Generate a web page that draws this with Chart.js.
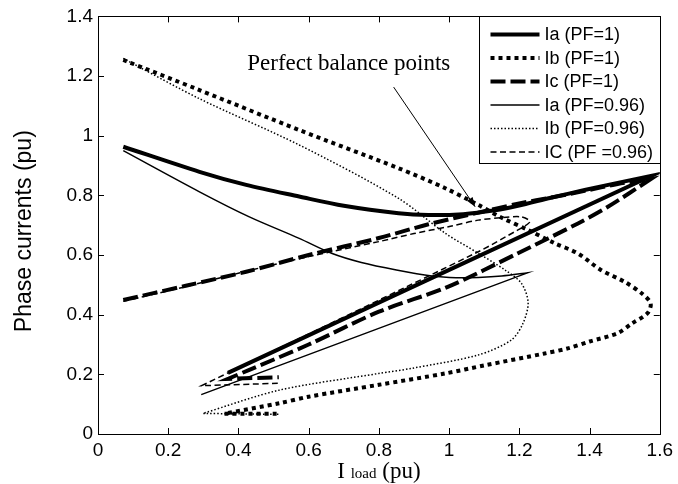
<!DOCTYPE html>
<html>
<head>
<meta charset="utf-8">
<script src="https://cdn.jsdelivr.net/npm/chart.js@4"></script>
<style>
  html, body { margin: 0; padding: 0; background: #fff; }
</style>
</head>
<body>
<canvas id="chart" width="678" height="484"></canvas>
<script>
// values (I load in pu, phase current in pu)
// each curve: outward branch, return branch, short tail; a branch starts where the previous one turned
const iaPf1OutX = [0.072, 0.289, 0.422, 0.573, 0.70, 0.856, 0.941, 1.04, 1.131, 1.196, 1.29, 1.386, 1.48, 1.575];
const iaPf1OutY = [0.963, 0.879, 0.835, 0.796, 0.765, 0.74, 0.734, 0.737, 0.75, 0.765, 0.792, 0.818, 0.842, 0.865];
const iaPf1BackX = [1.575, 0.37];
const iaPf1BackY = [0.865, 0.205];

const ibPf1OutX = [0.072, 0.289, 0.573, 0.856, 0.989, 1.083, 1.15, 1.225, 1.30, 1.367, 1.432, 1.50, 1.55, 1.574, 1.565, 1.52, 1.48, 1.40, 1.338, 1.272, 1.10, 0.989, 0.80, 0.60, 0.516, 0.36];
const ibPf1OutY = [1.254, 1.153, 1.019, 0.891, 0.824, 0.768, 0.725, 0.684, 0.64, 0.605, 0.55, 0.51, 0.47, 0.438, 0.405, 0.37, 0.338, 0.31, 0.287, 0.27, 0.23, 0.203, 0.165, 0.125, 0.103, 0.068];
const ibPf1TailX = [0.36, 0.515];
const ibPf1TailY = [0.068, 0.068];

const icPf1OutX = [0.072, 0.25, 0.422, 0.60, 0.80, 0.941, 1.083, 1.196, 1.30, 1.386, 1.48, 1.575];
const icPf1OutY = [0.449, 0.497, 0.544, 0.600, 0.657, 0.703, 0.742, 0.772, 0.795, 0.815, 0.838, 0.855];
const icPf1BackX = [1.575, 1.45, 1.367, 1.196, 0.998, 0.80, 0.60, 0.431, 0.37];
const icPf1BackY = [0.855, 0.76, 0.706, 0.606, 0.494, 0.41, 0.30, 0.215, 0.185];
const icPf1TailX = [0.37, 0.515];
const icPf1TailY = [0.185, 0.19];

const iaPf096OutX = [0.072, 0.289, 0.431, 0.573, 0.667, 0.75, 0.85, 0.951, 1.02, 1.083, 1.15, 1.225];
const iaPf096OutY = [0.950, 0.812, 0.728, 0.656, 0.605, 0.575, 0.55, 0.53, 0.524, 0.525, 0.530, 0.541];
const iaPf096BackX = [1.225, 0.294];
const iaPf096BackY = [0.541, 0.132];

const ibPf096OutX = [0.072, 0.289, 0.573, 0.856, 0.989, 1.083, 1.159, 1.206, 1.225, 1.21, 1.177, 1.083, 0.893, 0.80, 0.516, 0.299];
const ibPf096OutY = [1.259, 1.124, 0.969, 0.79, 0.673, 0.606, 0.55, 0.505, 0.44, 0.37, 0.315, 0.265, 0.22, 0.203, 0.147, 0.069];
const ibPf096TailX = [0.299, 0.515];
const ibPf096TailY = [0.069, 0.066];

const icPf096OutX = [0.072, 0.25, 0.431, 0.60, 0.80, 0.90, 0.998, 1.083, 1.15, 1.205, 1.23, 1.196];
const icPf096OutY = [0.445, 0.494, 0.548, 0.595, 0.645, 0.672, 0.695, 0.717, 0.725, 0.728, 0.712, 0.684];
const icPf096BackX = [1.196, 1.083, 0.295];
const icPf096BackY = [0.684, 0.611, 0.162];
const icPf096TailX = [0.295, 0.515];
const icPf096TailY = [0.162, 0.17];

const seriesLabels = ['Ia (PF=1)', 'Ib (PF=1)', 'Ic (PF=1)', 'Ia (PF=0.96)', 'Ib (PF=0.96)', 'IC (PF =0.96)'];

const xTickValues = [0, 0.2, 0.4, 0.6, 0.8, 1, 1.2, 1.4, 1.6];
const xTickLabels = ['0', '0.2', '0.4', '0.6', '0.8', '1', '1.2', '1.4', '1.6'];
const yTickValues = [0, 0.2, 0.4, 0.6, 0.8, 1, 1.2, 1.4];
const yTickLabels = ['0', '0.2', '0.4', '0.6', '0.8', '1', '1.2', '1.4'];

const noteText = 'Perfect balance points';
const noteTextPos = [0.425, 1.22];
const noteArrowFrom = [0.842, 1.163];
const noteArrowTo = [1.074, 0.762];

// join branches into one {x,y} list; the repeated turn point keeps the corner sharp
function toPoints(...branches) {
    const pts = [];
    for (let b = 0; b < branches.length; b += 2) {
        const xs = branches[b], ys = branches[b + 1];
        xs.forEach((x, i) => pts.push({ x: x, y: ys[i] }));
    }
    return pts;
}

function lineSet(label, pts, width, dash) {
    return {
        label: label,
        data: pts,
        showLine: true,
        borderColor: '#000',
        backgroundColor: '#000',
        borderWidth: width,
        borderDash: dash,
        pointRadius: 0,
        pointHoverRadius: 0,
        tension: 0.3,
        fill: false
    };
}

const SANS = '"Liberation Sans", Arial, sans-serif';
const SERIF = '"Liberation Serif", "Times New Roman", serif';

// box round the plot with inward ticks on every side (matlab style)
const boxPlugin = {
    id: 'box',
    afterDatasetsDraw(chart) {
        const { ctx, chartArea: a, scales } = chart;
        ctx.save();
        ctx.strokeStyle = '#000';
        ctx.lineWidth = 1;
        ctx.beginPath();
        xTickValues.forEach(v => {
            const px = Math.round(scales.x.getPixelForValue(v)) + 0.5;
            ctx.moveTo(px, a.bottom); ctx.lineTo(px, a.bottom - 6);
            ctx.moveTo(px, a.top); ctx.lineTo(px, a.top + 6);
        });
        yTickValues.forEach(v => {
            const py = Math.round(scales.y.getPixelForValue(v)) + 0.5;
            ctx.moveTo(a.left, py); ctx.lineTo(a.left + 6, py);
            ctx.moveTo(a.right, py); ctx.lineTo(a.right - 6, py);
        });
        ctx.stroke();
        ctx.strokeRect(Math.round(a.left) + 0.5, Math.round(a.top) + 0.5, Math.round(a.width), Math.round(a.height));
        ctx.restore();
    }
};

const notePlugin = {
    id: 'note',
    afterDatasetsDraw(chart) {
        const { ctx, scales } = chart;
        const x0 = scales.x.getPixelForValue(noteArrowFrom[0]);
        const y0 = scales.y.getPixelForValue(noteArrowFrom[1]);
        const x1 = scales.x.getPixelForValue(noteArrowTo[0]);
        const y1 = scales.y.getPixelForValue(noteArrowTo[1]);
        ctx.save();
        ctx.fillStyle = '#000';
        ctx.strokeStyle = '#000';
        ctx.lineWidth = 1;
        ctx.font = '23px ' + SERIF;
        ctx.textBaseline = 'alphabetic';
        ctx.fillText(noteText, scales.x.getPixelForValue(noteTextPos[0]), scales.y.getPixelForValue(noteTextPos[1]));
        ctx.beginPath();
        ctx.moveTo(x0, y0);
        ctx.lineTo(x1, y1);
        ctx.stroke();
        // arrow head
        const ang = Math.atan2(y1 - y0, x1 - x0);
        const len = 10, half = 0.35;
        ctx.beginPath();
        ctx.moveTo(x1, y1);
        ctx.lineTo(x1 - len * Math.cos(ang - half), y1 - len * Math.sin(ang - half));
        ctx.lineTo(x1 - len * Math.cos(ang + half), y1 - len * Math.sin(ang + half));
        ctx.closePath();
        ctx.fill();
        ctx.restore();
    }
};

const legendPlugin = {
    id: 'boxLegend',
    afterDraw(chart) {
        const { ctx, chartArea: a } = chart;
        const w = 181, h = 147;
        const left = Math.round(a.right - w) + 0.5, top = Math.round(a.top) + 0.5;
        ctx.save();
        ctx.fillStyle = '#fff';
        ctx.fillRect(left, top, w, h);
        ctx.strokeStyle = '#000';
        ctx.lineWidth = 1;
        ctx.strokeRect(left, top, w, h);
        ctx.font = '18px ' + SANS;
        ctx.textBaseline = 'middle';
        chart.data.datasets.forEach((ds, i) => {
            const y = top + 18 + i * 23.5;
            ctx.beginPath();
            ctx.lineWidth = ds.borderWidth;
            ctx.setLineDash(ds.borderDash || []);
            ctx.moveTo(left + 11, y);
            ctx.lineTo(left + 60, y);
            ctx.stroke();
            ctx.setLineDash([]);
            ctx.fillStyle = '#000';
            ctx.fillText(ds.label, left + 65, y + 1);
        });
        ctx.restore();
    }
};

const titlePlugin = {
    id: 'axisTitles',
    afterDraw(chart) {
        const { ctx, chartArea: a } = chart;
        ctx.save();
        ctx.fillStyle = '#000';
        // y title
        ctx.font = '23px ' + SANS;
        ctx.textAlign = 'center';
        ctx.textBaseline = 'middle';
        ctx.translate(25, (a.top + a.bottom) / 2 + 6);
        ctx.rotate(-Math.PI / 2);
        ctx.fillText('Phase currents (pu)', 0, 0);
        ctx.restore();

        // x title: "I" + small "load" + "(pu)"
        ctx.save();
        ctx.fillStyle = '#000';
        ctx.textBaseline = 'alphabetic';
        ctx.textAlign = 'left';
        const big = '23px ' + SERIF, small = '15px ' + SERIF;
        ctx.font = big;
        const wI = ctx.measureText('I ').width;
        const wPu = ctx.measureText(' (pu)').width;
        ctx.font = small;
        const wLoad = ctx.measureText('load').width;
        let x = (a.left + a.right) / 2 - (wI + wLoad + wPu) / 2;
        const base = 478;
        ctx.font = big;
        ctx.fillText('I ', x, base);
        x += wI;
        ctx.font = small;
        ctx.fillText('load', x, base);
        x += wLoad;
        ctx.font = big;
        ctx.fillText(' (pu)', x, base);
        ctx.restore();
    }
};

const whiteBg = {
    id: 'whiteBg',
    beforeDraw(chart) {
        const ctx = chart.ctx;
        ctx.save();
        ctx.fillStyle = '#fff';
        ctx.fillRect(0, 0, chart.width, chart.height);
        ctx.restore();
    }
};

const ctxEl = document.getElementById('chart');

new Chart(ctxEl, {
    type: 'scatter',
    data: {
        datasets: [
            lineSet(seriesLabels[0], toPoints(iaPf1OutX, iaPf1OutY, iaPf1BackX, iaPf1BackY), 4, []),
            lineSet(seriesLabels[1], toPoints(ibPf1OutX, ibPf1OutY, ibPf1TailX, ibPf1TailY), 4, [4, 4]),
            lineSet(seriesLabels[2], toPoints(icPf1OutX, icPf1OutY, icPf1BackX, icPf1BackY, icPf1TailX, icPf1TailY), 4, [15, 5]),
            lineSet(seriesLabels[3], toPoints(iaPf096OutX, iaPf096OutY, iaPf096BackX, iaPf096BackY), 1.5, []),
            lineSet(seriesLabels[4], toPoints(ibPf096OutX, ibPf096OutY, ibPf096TailX, ibPf096TailY), 1.5, [1.5, 2]),
            lineSet(seriesLabels[5], toPoints(icPf096OutX, icPf096OutY, icPf096BackX, icPf096BackY, icPf096TailX, icPf096TailY), 1.5, [6, 3.5])
        ]
    },
    options: {
        responsive: false,
        animation: false,
        devicePixelRatio: 1,
        layout: { padding: { left: 0, top: 16, right: 15, bottom: 0 } },
        plugins: {
            legend: { display: false },
            tooltip: { enabled: false }
        },
        scales: {
            x: {
                type: 'linear',
                min: 0,
                max: 1.6,
                afterBuildTicks: s => { s.ticks = xTickValues.map(v => ({ value: v })); },
                afterFit: s => { s.height = 50; },
                grid: { display: false, drawTicks: false },
                border: { display: false },
                ticks: {
                    callback: (v, i) => xTickLabels[i],
                    color: '#000',
                    font: { family: SANS, size: 19 },
                    padding: 5,
                    maxRotation: 0,
                    autoSkip: false
                }
            },
            y: {
                type: 'linear',
                min: 0,
                max: 1.4,
                afterBuildTicks: s => { s.ticks = yTickValues.map(v => ({ value: v })); },
                afterFit: s => { s.width = 98; },
                grid: { display: false, drawTicks: false },
                border: { display: false },
                ticks: {
                    callback: (v, i) => yTickLabels[i],
                    color: '#000',
                    font: { family: SANS, size: 19 },
                    padding: 5,
                    autoSkip: false
                }
            }
        }
    },
    plugins: [whiteBg, boxPlugin, notePlugin, legendPlugin, titlePlugin]
});
</script>
</body>
</html>
